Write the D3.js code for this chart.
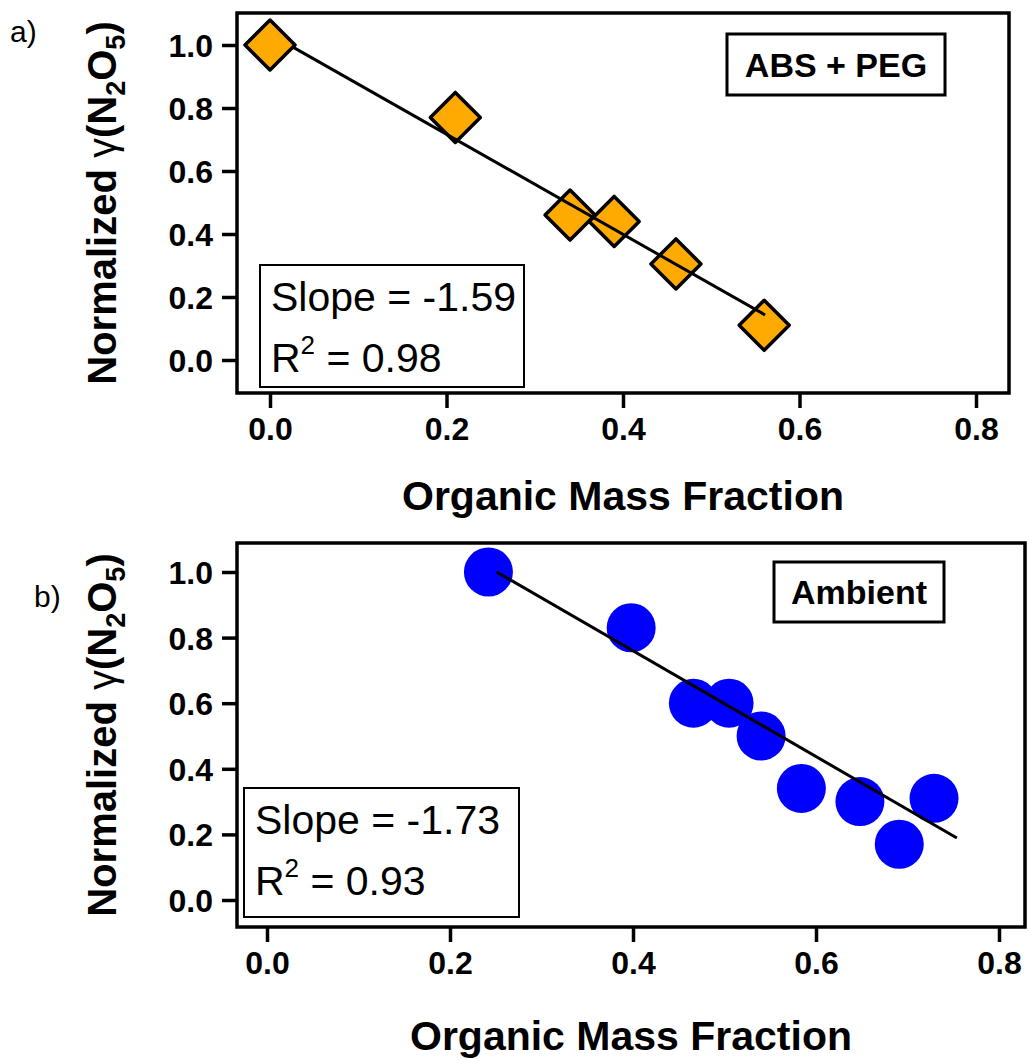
<!DOCTYPE html>
<html>
<head>
    <meta charset="utf-8">
    <style>
        html, body { margin: 0; padding: 0; background: white; }
        text { font-family: Arial, 'Liberation Sans', sans-serif; }
        .tick text { font-size: 32px; font-weight: bold; fill: black; }
        .tick line { stroke: black; stroke-width: 3.5px; }
    </style>
</head>
<body>
    <svg id="chart" width="1029" height="1061"></svg>

    <script src="https://d3js.org/d3.v7.min.js"></script>

    <script>
        // ---- data ----
        var xTicks = [0.0, 0.2, 0.4, 0.6, 0.8];
        var yTicks = [0.0, 0.2, 0.4, 0.6, 0.8, 1.0];

        // a) ABS + PEG
        var absX = [0.0, 0.21, 0.34, 0.39, 0.46, 0.56];
        var absY = [1.0, 0.77, 0.46, 0.44, 0.305, 0.11];
        var absFitX = [0.025, 0.561];
        var absFitY = [0.995, 0.143];
        var absStats = ["-1.59", "0.98"];

        // b) Ambient
        var ambX = [0.242, 0.398, 0.466, 0.505, 0.540, 0.584, 0.648, 0.691, 0.729];
        var ambY = [1.0, 0.83, 0.60, 0.60, 0.50, 0.34, 0.30, 0.17, 0.31];
        var ambFitX = [0.251, 0.754];
        var ambFitY = [1.0, 0.189];
        var ambStats = ["-1.73", "0.93"];

        var svg = d3.select("#chart");

        function drawPanel(p) {
            var g = svg.append("g");
            var x = d3.scaleLinear().domain([0, 0.8]).range([p.x0, p.x8]);
            var y = d3.scaleLinear().domain([0, 1]).range([p.y0, p.y1]);

            // axes (ticks outside)
            var xAxis = g.append("g")
                .attr("transform", "translate(0," + p.bottom + ")")
                .call(d3.axisBottom(x).tickValues(xTicks).tickFormat(d3.format(".1f"))
                    .tickSize(15).tickPadding(9));
            var yAxis = g.append("g")
                .attr("transform", "translate(" + p.left + ",0)")
                .call(d3.axisLeft(y).tickValues(yTicks).tickFormat(d3.format(".1f"))
                    .tickSize(15).tickPadding(9));
            xAxis.select(".domain").remove();
            yAxis.select(".domain").remove();
            xAxis.selectAll("text").attr("font-family", null);
            yAxis.selectAll("text").attr("font-family", null).attr("dy", "0.36em");
            xAxis.selectAll(".tick text").attr("dy", "0.72em");

            // frame
            g.append("rect")
                .attr("x", p.left).attr("y", p.top)
                .attr("width", p.right - p.left).attr("height", p.bottom - p.top)
                .attr("fill", "none").attr("stroke", "black").attr("stroke-width", 3.5);

            // stats box
            g.append("rect")
                .attr("x", p.sb[0]).attr("y", p.sb[1]).attr("width", p.sb[2]).attr("height", p.sb[3])
                .attr("fill", "white").attr("stroke", "black").attr("stroke-width", 2);
            g.append("text")
                .attr("x", p.sb[0] + 11).attr("y", p.sb[1] + 46)
                .attr("font-size", 41)
                .text("Slope = " + p.stats[0]);
            var r2 = g.append("text")
                .attr("x", p.sb[0] + 11).attr("y", p.sb[1] + 107)
                .attr("font-size", 41);
            r2.append("tspan").text("R");
            r2.append("tspan").attr("font-size", 26).attr("dy", -18).text("2");
            r2.append("tspan").attr("dy", 18).text(" = " + p.stats[1]);

            // label box
            g.append("rect")
                .attr("x", p.lb[0]).attr("y", p.lb[1]).attr("width", p.lb[2]).attr("height", p.lb[3])
                .attr("fill", "white").attr("stroke", "black").attr("stroke-width", 3);
            g.append("text")
                .attr("x", p.lb[0] + p.lb[2] / 2).attr("y", p.lb[1] + p.lb[3] / 2 + 12)
                .attr("text-anchor", "middle")
                .attr("font-size", 34).attr("font-weight", "bold")
                .text(p.label);

            // points
            var pts = d3.range(p.xs.length).map(function(i) { return [p.xs[i], p.ys[i]]; });
            if (p.marker === "diamond") {
                var s = 25;
                g.append("g").selectAll("path")
                    .data(pts).enter().append("path")
                    .attr("d", function(d) {
                        var cx = x(d[0]), cy = y(d[1]);
                        return "M" + (cx - s) + "," + cy + "L" + cx + "," + (cy - s) +
                            "L" + (cx + s) + "," + cy + "L" + cx + "," + (cy + s) + "Z";
                    })
                    .attr("fill", "#FFAA00").attr("stroke", "black")
                    .attr("stroke-width", 3.5).attr("stroke-linejoin", "round");
            } else {
                g.append("g").selectAll("circle")
                    .data(pts).enter().append("circle")
                    .attr("cx", function(d) { return x(d[0]); })
                    .attr("cy", function(d) { return y(d[1]); })
                    .attr("r", 24.5)
                    .attr("fill", "#0000FF");
            }

            // fit line
            g.append("line")
                .attr("x1", x(p.fx[0])).attr("y1", y(p.fy[0]))
                .attr("x2", x(p.fx[1])).attr("y2", y(p.fy[1]))
                .attr("stroke", "black").attr("stroke-width", 3);

            // axis titles
            g.append("text")
                .attr("x", (p.left + p.right) / 2).attr("y", p.xtY)
                .attr("text-anchor", "middle")
                .attr("font-size", 41).attr("font-weight", "bold")
                .text("Organic Mass Fraction");

            var yt = g.append("text")
                .attr("transform", "translate(116," + (p.top + p.bottom) / 2 + ") rotate(-90)")
                .attr("text-anchor", "middle")
                .attr("font-size", 40).attr("font-weight", "bold");
            yt.append("tspan").text("Normalized ");
            yt.append("tspan").attr("font-weight", "normal").text("γ");
            yt.append("tspan").text("(N");
            yt.append("tspan").attr("font-size", 27).attr("dy", 9).text("2");
            yt.append("tspan").attr("dy", -9).text("O");
            yt.append("tspan").attr("font-size", 27).attr("dy", 9).text("5");
            yt.append("tspan").attr("dy", -9).text(")");

            // panel letter
            svg.append("text")
                .attr("x", p.letter[0]).attr("y", p.letter[1])
                .attr("font-size", 30)
                .text(p.letter[2]);
        }

        drawPanel({
            left: 237, right: 1009, top: 13, bottom: 393,
            x0: 270, x8: 976, y0: 360, y1: 45,
            xs: absX, ys: absY, fx: absFitX, fy: absFitY, stats: absStats,
            marker: "diamond", label: "ABS + PEG",
            sb: [260, 265, 264, 122], lb: [727, 34, 218, 61],
            xtY: 510, letter: [10, 42, "a)"]
        });

        drawPanel({
            left: 237, right: 1025, top: 543, bottom: 927,
            x0: 267, x8: 999, y0: 900, y1: 572,
            xs: ambX, ys: ambY, fx: ambFitX, fy: ambFitY, stats: ambStats,
            marker: "circle", label: "Ambient",
            sb: [244, 788, 275, 129], lb: [774, 562, 170, 60],
            xtY: 1050, letter: [34, 607, "b)"]
        });
    </script>
</body>
</html>
